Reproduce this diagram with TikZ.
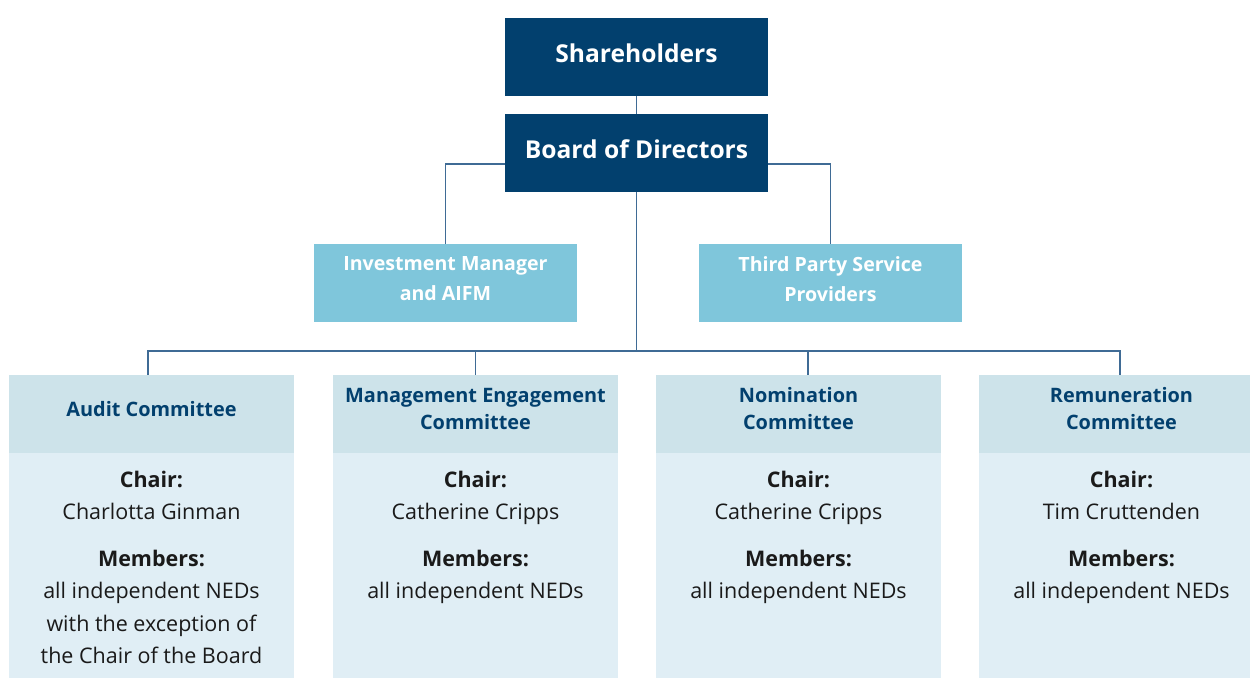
\documentclass[tikz,border=0pt]{standalone}
\usepackage{fontspec}
\setmainfont{Open Sans}
\definecolor{navy}{HTML}{02406E}
\definecolor{imblue}{HTML}{7FC6DB}
\definecolor{headc}{HTML}{CDE3EA}
\definecolor{bodyc}{HTML}{E0EEF5}
\definecolor{linec}{HTML}{3F6B95}
\definecolor{bodyk}{HTML}{1A1A1A}
\begin{document}
\begin{tikzpicture}[x=1pt,y=-1pt,
  navybox/.style={fill=navy, draw=none, inner sep=0, minimum width=263pt, minimum height=78pt},
  lightbox/.style={fill=imblue, draw=none, inner sep=0, minimum width=263pt, minimum height=78pt},
  headbox/.style={fill=headc, draw=none, inner sep=0, minimum width=285pt, minimum height=78pt},
  bodybox/.style={fill=bodyc, draw=none, inner sep=0, minimum width=285pt, minimum height=225pt},
  toptxt/.style={text=white, inner sep=0, font=\fontsize{24.6}{28}\selectfont\bfseries},
  imtxt/.style={text=white, inner sep=0, align=center, font=\fontsize{19.6}{30}\selectfont\bfseries},
  headtxt/.style={text=navy, inner sep=0, align=center, font=\fontsize{19.9}{27}\selectfont\bfseries},
  bodytxt/.style={text=bodyk, inner sep=0, align=center, anchor=north, font=\fontsize{21.5}{32.5}\selectfont},
  conn/.style={draw=linec, line width=1.6pt}]
\fill[white] (0,0) rectangle (1250,678);
\useasboundingbox (0,0) rectangle (1250,678);

% top boxes
\node[navybox] (sh) at (636.5,57) {};
\node[toptxt] (shT) at ([yshift=4pt]sh.center) {Shareholders};
\node[navybox] (bd) at (636.5,153) {};
\node[toptxt] (bdT) at ([yshift=4pt]bd.center) {Board of Directors};

\node[lightbox] (im) at (445.5,283) {};
\node[imtxt] (imT) at ([yshift=4pt]im.center) {Investment Manager\\and AIFM};
\node[lightbox] (tp) at (830.5,283) {};
\node[imtxt] (tpT) at ([yshift=4pt]tp.center) {Third Party Service\\Providers};

% committees
\node[headbox] (a1) at (151.5,414) {};
\node[headtxt] (a1T) at ([yshift=5pt]a1.center) {Audit Committee};
\node[bodybox] (a2) at (151.5,565.5) {};
\node[bodytxt] (a2T) at (151.5,470.5) {{\bfseries Chair:}\\Charlotta Ginman\\[14pt]{\bfseries Members:}\\all independent NEDs\\with the exception of\\the Chair of the Board};

\node[headbox] (m1) at (475.5,414) {};
\node[headtxt] (m1T) at ([yshift=5pt]m1.center) {Management Engagement\\Committee};
\node[bodybox] (m2) at (475.5,565.5) {};
\node[bodytxt] (m2T) at (475.5,470.5) {{\bfseries Chair:}\\Catherine Cripps\\[14pt]{\bfseries Members:}\\all independent NEDs};

\node[headbox] (n1) at (798.5,414) {};
\node[headtxt] (n1T) at ([yshift=5pt]n1.center) {Nomination\\Committee};
\node[bodybox] (n2) at (798.5,565.5) {};
\node[bodytxt] (n2T) at (798.5,470.5) {{\bfseries Chair:}\\Catherine Cripps\\[14pt]{\bfseries Members:}\\all independent NEDs};

\node[headbox] (r1) at (1121.5,414) {};
\node[headtxt] (r1T) at ([yshift=5pt]r1.center) {Remuneration\\Committee};
\node[bodybox] (r2) at (1121.5,565.5) {};
\node[bodytxt] (r2T) at (1121.5,470.5) {{\bfseries Chair:}\\Tim Cruttenden\\[14pt]{\bfseries Members:}\\all independent NEDs};

% connectors
\draw[conn] (sh.south) -- (bd.north);
\draw[conn] ([yshift=-11pt]bd.west) -| (im.north);
\draw[conn] ([yshift=-11pt]bd.east) -| (tp.north);
\coordinate (bus) at (636.5,351);
\draw[conn] (bd.south) -- (bus);
\draw[conn] (bus) -| ([xshift=-3.5pt]a1.north);
\draw[conn] (bus) -| (m1.north);
\draw[conn] (bus) -| ([xshift=9.5pt]n1.north);
\draw[conn] (bus) -| ([xshift=-1.5pt]r1.north);
\end{tikzpicture}
\end{document}
